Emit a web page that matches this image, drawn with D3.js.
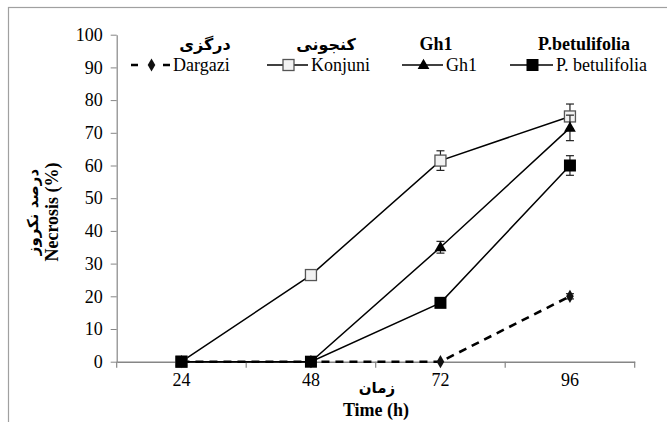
<!DOCTYPE html>
<html>
<head>
<meta charset="utf-8">
<script src="https://cdn.jsdelivr.net/npm/d3@7"></script>
<style>
body { margin: 0; background: #fff; }
</style>
</head>
<body>
<div id="chart"></div>
<script>
// data
var times = ["24", "48", "72", "96"];
var yTicks = [0, 10, 20, 30, 40, 50, 60, 70, 80, 90, 100];
var names = ["Dargazi", "Konjuni", "Gh1", "P. betulifolia"];
var headers = ["درگزی", "کنجونی", "Gh1", "P.betulifolia"];
var dargazi = [0, 0, 0, 20];
var konjuni = [0, 26.5, 61.5, 75];
var gh1 = [0, 0, 35, 71.5];
var pbet = [0, 0, 18, 60];
var dargaziErr = [0, 0, 0, 0.8];
var konjuniErr = [0, 0, 3, 3.8];
var gh1Err = [0, 0, 1.8, 3.9];
var pbetErr = [0, 0, 0, 3];

var SERIF = "'Liberation Serif', 'Times New Roman', serif";
var FA = "'DejaVu Sans', sans-serif";

var svgWidth = 667, svgHeight = 422;
var svg = d3.select("#chart").append("svg")
  .attr("width", svgWidth).attr("height", svgHeight);

// outer frame (runs off the right and bottom)
svg.append("rect").attr("x", 8.5).attr("y", 7.5)
  .attr("width", 700).attr("height", 500)
  .attr("fill", "none").attr("stroke", "#a0a0a0").attr("stroke-width", 1.2);

var x = d3.scaleBand().domain(times).range([116.7, 634.7]);
var y = d3.scaleLinear().domain([0, 100]).range([361.7, 34.7]);

// axes
var xAxis = svg.append("g").attr("transform", "translate(0," + y(0) + ")")
  .call(d3.axisBottom(x).tickSize(0).tickPadding(12));
xAxis.select(".domain").attr("stroke", "#868686").attr("stroke-width", 1.5);
xAxis.selectAll("text").style("font-size", "18px").style("font-family", SERIF).attr("fill", "#000");
// tick marks at band edges
xAxis.selectAll(".edge").data([116.7].concat(times.map(function(t) { return x(t) + x.bandwidth(); })))
  .enter().append("line").attr("class", "edge")
  .attr("x1", function(d) { return d; }).attr("x2", function(d) { return d; })
  .attr("y1", 0).attr("y2", 6).attr("stroke", "#868686").attr("stroke-width", 1.2);

var yAxis = svg.append("g").attr("transform", "translate(116.7,0)")
  .call(d3.axisLeft(y).tickValues(yTicks).tickSize(6).tickSizeOuter(0).tickPadding(8));
yAxis.select(".domain").attr("stroke", "#868686").attr("stroke-width", 1.2);
yAxis.selectAll(".tick line").attr("stroke", "#868686");
yAxis.selectAll("text").style("font-size", "18px").style("font-family", SERIF).attr("fill", "#000");

// axis titles
svg.append("text").attr("x", 377).attr("y", 393)
  .attr("text-anchor", "middle").style("font-family", FA).style("font-size", "15px")
  .style("font-weight", "bold").text("زمان");
svg.append("text").attr("x", 376).attr("y", 416).attr("text-anchor", "middle")
  .style("font-family", SERIF).style("font-size", "18px").style("font-weight", "bold").text("Time (h)");
svg.append("text")
  .attr("transform", "translate(38,212) rotate(-90)")
  .attr("text-anchor", "middle").style("font-family", FA).style("font-size", "15px")
  .style("font-weight", "bold").text("درصد نکروز");
svg.append("text")
  .attr("transform", "translate(58,212) rotate(-90)")
  .attr("text-anchor", "middle").style("font-family", SERIF).style("font-size", "18px")
  .style("font-weight", "bold").text("Necrosis (%)");

var series = [
  { name: names[0], vals: dargazi, err: dargaziErr, dash: "8,6", legDash: "7,25,7", width: 2.6, marker: "diamond" },
  { name: names[1], vals: konjuni, err: konjuniErr, dash: null, legDash: null, width: 1.5, marker: "open" },
  { name: names[2], vals: gh1, err: gh1Err, dash: null, legDash: null, width: 1.5, marker: "triangle" },
  { name: names[3], vals: pbet, err: pbetErr, dash: null, legDash: null, width: 1.5, marker: "square" }
];

var line = d3.line()
  .x(function(d, i) { return x(times[i]) + x.bandwidth() / 2; })
  .y(function(d) { return y(d); });

function drawMarker(g, type, cx, cy) {
  if (type === "diamond") {
    g.append("path").attr("d", d3.symbol(d3.symbolDiamond, 50)())
      .attr("transform", "translate(" + cx + "," + cy + ")").attr("fill", "#111");
  } else if (type === "triangle") {
    g.append("path").attr("d", d3.symbol(d3.symbolTriangle, 60)())
      .attr("transform", "translate(" + cx + "," + (cy + 0.5) + ")").attr("fill", "#000");
  } else if (type === "open") {
    g.append("rect").attr("x", cx - 5.5).attr("y", cy - 5.5).attr("width", 11).attr("height", 11)
      .attr("fill", "#f2f2f2").attr("stroke", "#555").attr("stroke-width", 1.3);
  } else {
    g.append("rect").attr("x", cx - 6).attr("y", cy - 6).attr("width", 12).attr("height", 12)
      .attr("fill", "#000");
  }
}

series.forEach(function(s) {
  var g = svg.append("g");
  g.append("path").datum(s.vals).attr("d", line)
    .attr("fill", "none").attr("stroke", "#000").attr("stroke-width", s.width)
    .attr("stroke-dasharray", s.dash);
  s.vals.forEach(function(v, i) {
    var cx = x(times[i]) + x.bandwidth() / 2;
    var e = s.err[i];
    if (e > 0) {
      var eg = g.append("g").attr("stroke", "#222").attr("stroke-width", 1.2);
      eg.append("line").attr("x1", cx).attr("x2", cx).attr("y1", y(v + e)).attr("y2", y(v - e));
      eg.append("line").attr("x1", cx - 4).attr("x2", cx + 4).attr("y1", y(v + e)).attr("y2", y(v + e));
      eg.append("line").attr("x1", cx - 4).attr("x2", cx + 4).attr("y1", y(v - e)).attr("y2", y(v - e));
    }
    drawMarker(g, s.marker, cx, y(v));
  });
});

// legend
var legLineX = [131, 267, 402, 510];
var legLineW = [39, 41, 41, 43];
var headCx = [205, 326, 436, 584];
series.forEach(function(s, i) {
  var lg = svg.append("g");
  lg.append("text")
    .attr("x", headCx[i]).attr("y", 50).attr("text-anchor", "middle")
    .style("font-family", i < 2 ? FA : SERIF).style("font-size", i < 2 ? "16px" : "18px")
    .style("font-weight", "bold").text(headers[i]);
  lg.append("line").attr("x1", legLineX[i]).attr("x2", legLineX[i] + legLineW[i])
    .attr("y1", 65).attr("y2", 65).attr("stroke", "#000").attr("stroke-width", s.width)
    .attr("stroke-dasharray", s.legDash);
  drawMarker(lg, s.marker, legLineX[i] + legLineW[i] / 2 + 1, 65);
  lg.append("text").attr("x", legLineX[i] + legLineW[i] + 3).attr("y", 71)
    .style("font-family", SERIF).style("font-size", "18px").text(s.name);
});
</script>
</body>
</html>
